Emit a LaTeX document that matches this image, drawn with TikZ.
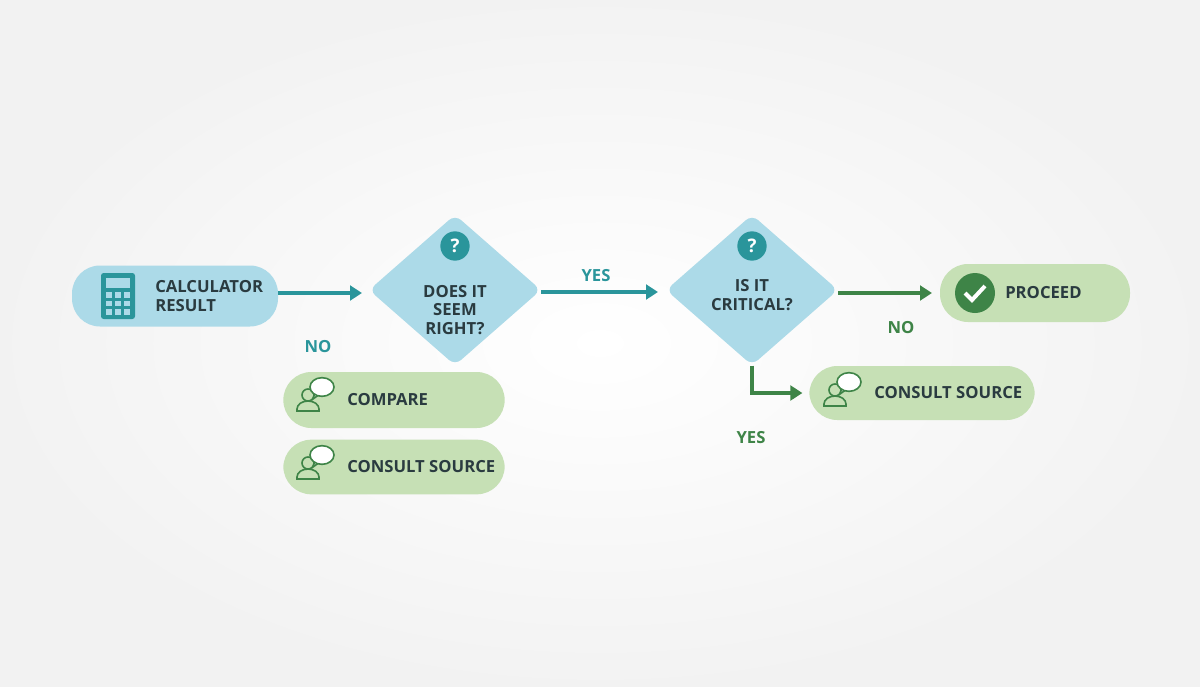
\documentclass[tikz,border=0pt]{standalone}
\usepackage{fontspec}
\setmainfont{Open Sans}
\usetikzlibrary{arrows.meta, positioning, shapes.geometric}
\definecolor{tealc}{HTML}{2A959B}
\definecolor{skyfill}{HTML}{ACDAE8}
\definecolor{leaf}{HTML}{3E8447}
\definecolor{leaffill}{HTML}{C6E0B5}
\definecolor{ink}{HTML}{2A3B40}
\tikzstyle{block} = [rectangle, rounded corners=21pt, inner sep=0pt]
\tikzstyle{start} = [block, fill=skyfill]
\tikzstyle{action} = [block, fill=leaffill]
\tikzstyle{decision} = [diamond, fill=skyfill, rounded corners=6pt, inner sep=0pt, minimum width=129pt, minimum height=113pt]
\tikzstyle{caption} = [font=\fontsize{12.5}{14}\selectfont\bfseries, text=ink, align=left, inner sep=0pt]
\tikzstyle{tag} = [font=\fontsize{12.5}{14}\selectfont\bfseries, inner sep=0pt]
\tikzstyle{path} = [-{Triangle[length=9pt, width=11pt]}, line width=3pt]
\newcommand*{\talkicon}[1]{%
  \begin{scope}[shift={#1}, leaf, line width=1.2pt]
    \draw (-5,-3) circle[radius=4.5pt];
    \draw (-16,13) -- (-16,11) arc[start angle=180, end angle=360, x radius=11, y radius=8] -- (6,13) -- cycle;
    \draw[fill=white] (2,-6) -- (0,1) -- (7,-4);
    \draw[fill=white] (9,-11) ellipse[x radius=9pt, y radius=7pt];
  \end{scope}}
\begin{document}
\begin{tikzpicture}[x=0.75pt, y=-0.75pt]
    \shade[inner color=white, outer color=gray!10] (0,0) rectangle (1200,686);
    \useasboundingbox (0,0) rectangle (1200,686);

    % Nodes.
    \node (calc) [start, minimum width=154.5pt, minimum height=45.75pt] at (175,296) {};
    \node (calc text) [caption, anchor=west] at (155,296) {CALCULATOR\\RESULT};
    \node (seem) [decision] at (455,290) {};
    \node (seem text) [caption, align=center] at (455,310) {DOES IT\\SEEM\\RIGHT?};
    \node (crit) [decision] at (752,290) {};
    \node (crit text) [caption, align=center] at (752,295) {IS IT\\CRITICAL?};
    \node (proceed) [action, minimum width=142.5pt, minimum height=43.5pt] at (1035,293) {};
    \node (proceed text) [caption, anchor=west] at (1005,293) {PROCEED};
    \node (consult2) [action, minimum width=169pt, minimum height=40.5pt] at (922,393) {};
    \node (consult2 text) [caption, anchor=west] at (874,393) {CONSULT SOURCE};
    \node (compare) [action, minimum width=166pt, minimum height=42pt] at (394,400) {};
    \node (compare text) [caption, anchor=west] at (347,400) {COMPARE};
    \node (consult1) [action, minimum width=166pt, minimum height=41pt] at (394,467) {};
    \node (consult1 text) [caption, anchor=west] at (347,467) {CONSULT SOURCE};

    % Icons.
    \fill[tealc, rounded corners=2pt] (101,273) rectangle (135,319);
    \fill[skyfill] (106,278) rectangle (130,288);
    \foreach\i in {0, 1, 2} {
        \foreach\j in {0, 1, 2} {
            \fill[skyfill] (106+\i*9,292+\j*8.5) rectangle (112+\i*9,297.5+\j*8.5);
        }
    }
    \foreach\x in {455, 752} {
        \fill[tealc] (\x,246) circle[radius=11pt];
        \node[font=\fontsize{14}{15}\selectfont\bfseries, text=white] at (\x,246) {?};
    }
    \fill[leaf] (975,293) circle[radius=15pt];
    \draw[white, line width=3pt] (965,293) -- (972,300) -- (985,286);
    \talkicon{(313,398)}
    \talkicon{(313,466)}
    \talkicon{(840,393)}

    % Arrows.
    \draw [path, tealc] (calc.east |- 0,293) -- (362,293);
    \draw [path, tealc] (seem.east |- 0,292) -- (658,292);
    \draw [path, leaf] (crit.east |- 0,293) -- (932,293);
    \draw [path, leaf] (crit.south) |- ([xshift=-5pt]consult2.west);

    % Labels.
    \node (yes1) [tag, text=tealc] at (596,276) {YES};
    \node (no1) [tag, text=tealc] at (318,347) {NO};
    \node (no2) [tag, text=leaf] at (901,328) {NO};
    \node (yes2) [tag, text=leaf] at (751,438) {YES};
\end{tikzpicture}
\end{document}
